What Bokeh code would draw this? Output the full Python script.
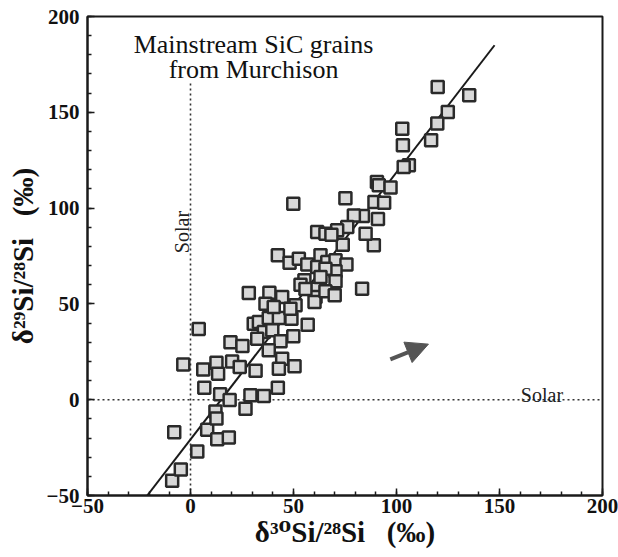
from bokeh.plotting import figure
from bokeh.models import Range1d, FixedTicker, Label, Arrow, NormalHead
from bokeh.embed import file_html
from bokeh.resources import INLINE

# delta30Si/28Si (permil) of the grains
d30 = [-8.9, -4.7, 3.3, -7.9, 8.1, 13.0, 18.6, 12.1, 12.6, 26.7,
       6.7, 14.4, 19.0, 29.1, 35.6, 42.4, -3.5, 6.2, 12.6, 13.4,
       20.2, 23.9, 31.6, 4.0, 19.4, 25.2,
       30.7, 33.2, 38.0, 42.9, 49.0, 56.9, 35.6, 39.7, 49.9, 43.7,
       32.4, 38.0, 44.5, 42.9, 50.5, 28.3, 38.3, 44.5, 36.4, 40.4,
       51.0, 48.5, 42.4, 48.1, 52.6, 56.7, 63.1, 61.5, 66.4, 70.4,
       75.7, 70.4, 55.3, 53.4, 61.5, 70.4, 60.7, 60.2, 65.5, 70.0,
       83.3, 73.9, 89.0, 65.5, 63.1, 55.8,
       106.0, 103.5, 90.5, 91.4, 97.1, 89.3, 94.0, 49.9, 75.2, 83.7,
       91.0, 79.3, 76.1, 71.2, 61.5, 65.5, 68.4, 85.0,
       120.0, 135.3, 124.9, 119.8, 116.8, 102.8, 103.1]
# delta29Si/28Si (permil) of the grains
d29 = [-42.3, -36.4, -27.1, -17.0, -15.7, -20.7, -19.7, -6.1, -9.8, -4.7,
       6.2, 2.9, -0.1, 2.3, 1.9, 6.2, 18.4, 15.7, 19.3, 13.6,
       20.0, 17.1, 15.1, 36.9, 30.0, 28.0,
       39.7, 40.6, 42.6, 42.6, 42.3, 39.1, 35.3, 36.2, 33.1, 30.5,
       31.8, 25.8, 21.4, 16.2, 17.4, 55.7, 55.8, 53.6, 50.1, 48.4,
       49.3, 47.5, 75.4, 71.5, 73.6, 70.5, 75.4, 69.3, 71.9, 72.8,
       70.5, 67.0, 62.3, 60.0, 57.9, 61.8, 53.6, 51.0, 56.6, 54.5,
       57.9, 80.9, 80.6, 68.4, 64.0, 57.8,
       122.3, 121.5, 113.6, 111.9, 110.8, 103.2, 102.8, 102.3, 105.1, 95.9,
       94.3, 96.2, 90.1, 88.4, 87.5, 86.6, 86.1, 86.6,
       163.2, 158.9, 150.2, 144.1, 135.4, 141.4, 132.8]

fit_x = [-21.0, 147.6]
fit_y = [-50.0, 185.0]
solar_v_x = [0, 0]
solar_v_y = [-50, 166]
solar_h_x = [-50, 200]
solar_h_y = [0, 0]
arrow_from = [97.0, 21.0]
arrow_to = [115.5, 29.0]
x_ticks = [-50, 0, 50, 100, 150, 200]
y_ticks = [-50, 0, 50, 100, 150, 200]
minor_ticks = list(range(-50, 201, 10))
title_lines = ["Mainstream SiC grains", "from Murchison"]
x_title = "δ³⁰Si/²⁸Si\u00a0\u00a0 (‰)"
y_title = "δ²⁹Si/²⁸Si\u00a0\u00a0 (‰)"

SERIF = "Liberation Serif"
SERIF_FALLBACK = "Liberation Serif, DejaVu Serif"

p = figure(width=618, height=557, output_backend="svg", toolbar_location=None,
           x_range=Range1d(-50, 200), y_range=Range1d(-50, 200),
           min_border_left=87, min_border_right=16, min_border_top=16,
           min_border_bottom=62)
p.background_fill_color = "white"
p.border_fill_color = "white"
p.grid.visible = False
p.outline_line_color = "#1a1a1a"
p.outline_line_width = 2

for ax, ticks in ((p.xaxis[0], x_ticks), (p.yaxis[0], y_ticks)):
    ax.ticker = FixedTicker(ticks=ticks, minor_ticks=minor_ticks)
    ax.axis_line_width = 2
    ax.axis_line_color = "#1a1a1a"
    ax.major_tick_in = 7
    ax.major_tick_out = 0
    ax.minor_tick_in = 4
    ax.minor_tick_out = 0
    ax.major_tick_line_width = 1.5
    ax.minor_tick_line_width = 1.5
    ax.major_tick_line_color = "#1a1a1a"
    ax.minor_tick_line_color = "#1a1a1a"
    ax.major_label_text_font = SERIF
    ax.major_label_text_font_style = "bold"
    ax.major_label_text_font_size = "21px"
    ax.major_label_text_color = "#111111"
    ax.axis_label_text_font = SERIF_FALLBACK
    ax.axis_label_text_font_style = "bold"
    ax.axis_label_text_font_size = "29px"
    ax.axis_label_text_color = "#111111"

p.xaxis.axis_label = x_title
p.yaxis.axis_label = y_title
p.xaxis.major_label_standoff = 3
p.yaxis.major_label_standoff = 8
p.xaxis.axis_label_standoff = 0
p.yaxis.axis_label_standoff = 5

# solar reference lines
p.line(solar_v_x, solar_v_y, line_color="#333333", line_width=1.6, line_dash="2 3")
p.line(solar_h_x, solar_h_y, line_color="#333333", line_width=1.6, line_dash="2 3")

# fitted correlation line
p.line(fit_x, fit_y, line_color="#1a1a1a", line_width=2)

# grains
p.scatter(d30, d29, marker="square", size=12, fill_color="#d8d8d8",
          line_color="#2a2a2a", line_width=2.5)

# arrow
p.add_layout(Arrow(end=NormalHead(size=22, fill_color="#555555", line_color="#555555"),
                   x_start=arrow_from[0], y_start=arrow_from[1],
                   x_end=arrow_to[0], y_end=arrow_to[1],
                   line_color="#555555", line_width=4))

def lab(x, y, text, size, angle=0.0, align="center", color="#111111"):
    p.add_layout(Label(x=x, y=y, text=text, angle=angle, text_align=align,
                       text_baseline="alphabetic", text_font=SERIF,
                       text_font_size=size, text_color=color))

lab(30.6, 185.6, title_lines[0], "26px")
lab(30.6, 172.4, title_lines[1], "26px")
lab(-3.9, 87.5, "Solar", "20px", angle=1.5708, color="#222222")
lab(170.6, 2.6, "Solar", "20px", color="#222222")

open("out.html", "w").write(file_html(p, INLINE))
